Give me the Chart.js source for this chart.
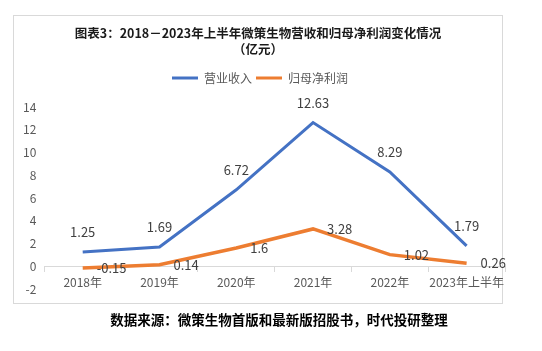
<!DOCTYPE html>
<html>
<head>
  <meta charset="utf-8">
  <script src="https://cdn.jsdelivr.net/npm/chart.js"></script>
  <style>
    body { margin: 0; width: 542px; height: 351px; background: #fff; position: relative; overflow: hidden; }
    .frame { position: absolute; left: 13px; top: 15px; width: 488px; height: 287px; border: 1px solid #d9d9d9; }
    #wrap { position: absolute; left: 0; top: 0; width: 514px; height: 351px; }
    .title {
      position: absolute; left: 13px; width: 490px; top: 25px; text-align: center;
      font-family: "Noto Sans CJK SC", sans-serif; font-weight: bold; font-size: 12.5px; line-height: 16px; color: #1a1a1a;
    }
    .source {
      position: absolute; left: 0; width: 558px; top: 309px; text-align: center;
      font-family: "Noto Sans CJK SC", sans-serif; font-weight: bold; font-size: 13.5px; color: #000;
    }
  </style>
</head>
<body>
  <div class="frame"></div>
  <div id="wrap"><canvas id="myChart" width="514" height="351"></canvas></div>
  <div class="title">图表3：2018－2023年上半年微策生物营收和归母净利润变化情况<br>（亿元）</div>
  <div class="source">数据来源：微策生物首版和最新版招股书，时代投研整理</div>

  <script>
    const years = ['2018年', '2019年', '2020年', '2021年', '2022年', '2023年上半年'];
    const revenue = [1.25, 1.69, 6.72, 12.63, 8.29, 1.79];     // 营业收入
    const netProfit = [-0.15, 0.14, 1.6, 3.28, 1.02, 0.26];    // 归母净利润
    const yTicks = [-2, 0, 2, 4, 6, 8, 10, 12, 14];

    const font = '"Noto Sans CJK SC", "Microsoft YaHei", sans-serif';

    // 图例下方多留一点空
    const legendGap = {
      id: 'legendGap',
      beforeInit(chart) {
        const fit = chart.legend.fit;
        chart.legend.fit = function () { fit.call(this); this.height += 13; };
      }
    };

    // 数据标签：营业收入在上方，净利润在右侧
    const valueLabels = {
      id: 'valueLabels',
      afterDatasetsDraw(chart) {
        const ctx = chart.ctx;
        ctx.save();
        ctx.font = '13px ' + font;
        ctx.fillStyle = '#404040';
        chart.data.datasets.forEach((ds, i) => {
          const meta = chart.getDatasetMeta(i);
          meta.data.forEach((pt, j) => {
            ctx.textBaseline = 'middle';
            if (i === 0) {
              ctx.textAlign = 'center';
              ctx.fillText(String(ds.data[j]), pt.x, pt.y - 20);
            } else {
              ctx.textAlign = 'left';
              ctx.fillText(String(ds.data[j]), pt.x + 14, pt.y);
            }
          });
        });
        ctx.restore();
      }
    };

    const ctx = document.getElementById('myChart').getContext('2d');
    new Chart(ctx, {
      type: 'line',
      data: {
        labels: years,
        datasets: [{
          label: '营业收入',
          data: revenue,
          borderColor: '#4472C4',
          backgroundColor: '#4472C4',
          borderWidth: 3,
          pointRadius: 0,
          tension: 0
        }, {
          label: '归母净利润',
          data: netProfit,
          borderColor: '#ED7D31',
          backgroundColor: '#ED7D31',
          borderWidth: 3.5,
          pointRadius: 0,
          tension: 0
        }]
      },
      options: {
        responsive: false,
        animation: false,
        layout: { padding: { left: 15, right: 9, top: 68, bottom: 62 } },
        plugins: {
          legend: {
            display: true,
            labels: {
              color: '#595959',
              font: { family: font, size: 12 },
              boxWidth: 26,
              boxHeight: 3,
              padding: 4,
              generateLabels: chart => Chart.defaults.plugins.legend.labels.generateLabels(chart)
                .map(l => Object.assign(l, { lineWidth: 0 }))
            }
          },
          tooltip: { enabled: false }
        },
        scales: {
          x: {
            position: { y: 0 },
            offset: true,
            grid: { display: true, offset: true, drawOnChartArea: false, drawTicks: true, tickLength: 5, color: '#d9d9d9' },
            border: { display: true, color: '#d9d9d9' },
            ticks: { color: '#595959', font: { family: font, size: 12 }, padding: 4, maxRotation: 0, autoSkip: false }
          },
          y: {
            min: -2,
            max: 14,
            afterBuildTicks: axis => { axis.ticks = yTicks.map(v => ({ value: v })); },
            grid: { display: false, drawTicks: false },
            border: { display: false },
            ticks: { color: '#595959', font: { family: font, size: 12 }, padding: 8 }
          }
        }
      },
      plugins: [legendGap, valueLabels]
    });
  </script>
</body>
</html>
